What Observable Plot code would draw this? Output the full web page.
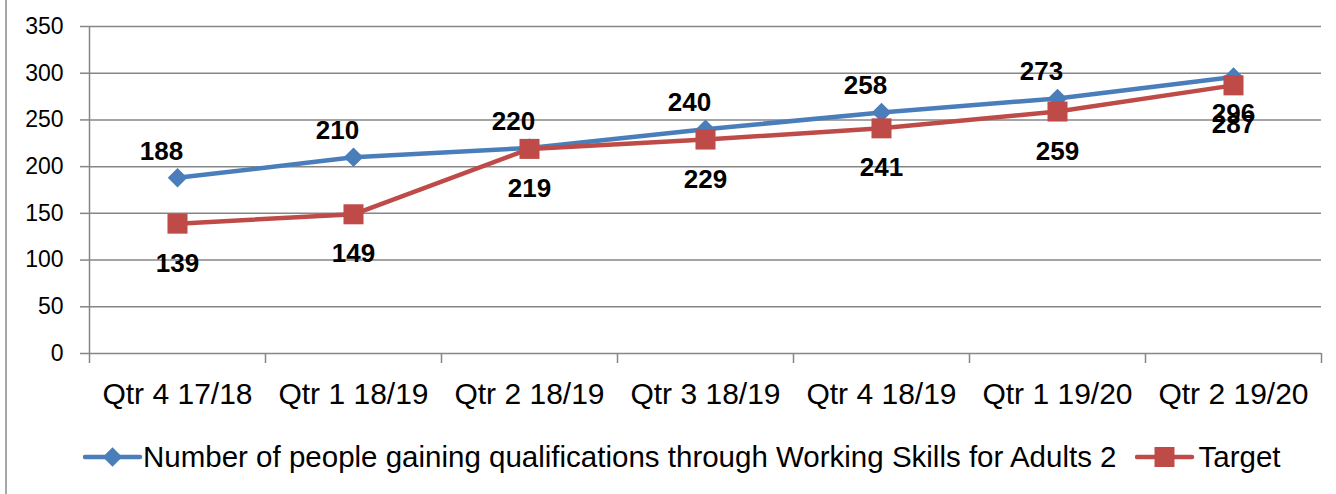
<!DOCTYPE html>
<html>
<head>
<meta charset="utf-8">
<script src="https://cdn.jsdelivr.net/npm/d3@7"></script>
<script src="https://cdn.jsdelivr.net/npm/@observablehq/plot@0.6"></script>
<style>
  html, body { margin: 0; padding: 0; background: #fff; }
  body { width: 1336px; height: 494px; overflow: hidden; position: relative; font-family: "Liberation Sans", Arial, sans-serif; }
  #frame { position: absolute; left: 5px; top: 0; width: 2px; height: 494px; background: #a6a6a6; }
  #chart { position: absolute; left: 0; top: 0; }
  #legend { position: absolute; left: 83px; top: 440px; display: flex; align-items: center; font-size: 29.5px; color: #000; white-space: nowrap; }
  #legend .item { display: flex; align-items: center; }
  #legend svg { display: block; }
</style>
</head>
<body>
<div id="frame"></div>
<div id="chart"></div>
<div id="legend"></div>
<script>
const categories = ["Qtr 4 17/18", "Qtr 1 18/19", "Qtr 2 18/19", "Qtr 3 18/19", "Qtr 4 18/19", "Qtr 1 19/20", "Qtr 2 19/20"];
const qualifications = [188, 210, 220, 240, 258, 273, 296];
const target = [139, 149, 219, 229, 241, 259, 287];
const yTicks = [0, 50, 100, 150, 200, 250, 300, 350];
const seriesNames = ["Number of people gaining qualifications through Working Skills for Adults 2", "Target"];

const blue = "#4A7EBB";
const red = "#BE4B48";
const grid = "#868686";

const blueRows = categories.map((c, i) => ({i, c, v: qualifications[i]}));
const redRows = categories.map((c, i) => ({i, c, v: target[i]}));
const last = categories.length - 1;
const boundaries = d3.range(-0.5, categories.length, 1);
const labelStyle = {x: "i", y: "v", text: d => String(d.v), fontSize: 26, fontWeight: "bold", fill: "#000", lineAnchor: "bottom"};

const chart = Plot.plot({
  width: 1336,
  height: 420,
  marginLeft: 89,
  marginRight: 15,
  marginTop: 26,
  marginBottom: 67,
  style: {fontFamily: "'Liberation Sans', Arial, sans-serif", color: "#000", background: "transparent"},
  x: {type: "linear", domain: [-0.5, categories.length - 0.5]},
  y: {domain: [0, 350]},
  marks: [
    Plot.gridY(yTicks, {stroke: grid, strokeOpacity: 1, strokeWidth: 1.5}),
    Plot.axisY(yTicks, {tickSize: 9, tickPadding: 17, fontSize: 23, stroke: grid, strokeWidth: 1.5, label: null, fill: "#000"}),
    Plot.ruleX([-0.5], {stroke: grid, strokeWidth: 1.5}),
    Plot.axisX(boundaries, {tickSize: 10, tickFormat: () => "", stroke: grid, strokeWidth: 1.5, label: null}),
    Plot.axisX(d3.range(categories.length), {tickSize: 0, tickPadding: 29, tickFormat: i => categories[i], fontSize: 30, label: null, fill: "#000"}),
    Plot.line(blueRows, {x: "i", y: "v", stroke: blue, strokeWidth: 4.5}),
    Plot.dot(blueRows, {x: "i", y: "v", symbol: "diamond2", r: 8.8, fill: blue, stroke: null}),
    Plot.line(redRows, {x: "i", y: "v", stroke: red, strokeWidth: 4.5}),
    Plot.dot(redRows, {x: "i", y: "v", symbol: "square", r: 11.3, fill: red, stroke: null}),
    Plot.text(blueRows.filter(d => d.i !== last), {...labelStyle, dx: -16, dy: -18}),
    Plot.text(blueRows.filter(d => d.i === last), {...labelStyle, dy: 45}),
    Plot.text(redRows, {...labelStyle, dy: 48})
  ]
});
document.getElementById("chart").appendChild(chart);

// legend
const legend = document.getElementById("legend");
function swatch(color, symbol) {
  const ns = "http://www.w3.org/2000/svg";
  const s = document.createElementNS(ns, "svg");
  s.setAttribute("width", 60); s.setAttribute("height", 26);
  const l = document.createElementNS(ns, "line");
  l.setAttribute("x1", 2); l.setAttribute("x2", 57); l.setAttribute("y1", 13); l.setAttribute("y2", 13);
  l.setAttribute("stroke", color); l.setAttribute("stroke-width", 4.5); l.setAttribute("stroke-linecap", "round");
  s.appendChild(l);
  const p = document.createElementNS(ns, "path");
  p.setAttribute("d", d3.symbol(symbol === "diamond" ? d3.symbolDiamond2 : d3.symbolSquare, symbol === "diamond" ? 242 : 400)());
  p.setAttribute("transform", "translate(29.5,13)");
  p.setAttribute("fill", color);
  s.appendChild(p);
  return s;
}
[[blue, "diamond"], [red, "square"]].forEach(([c, sym], k) => {
  const item = document.createElement("div");
  item.className = "item";
  if (k > 0) item.style.marginLeft = "18px";
  item.appendChild(swatch(c, sym));
  const t = document.createElement("span");
  t.textContent = seriesNames[k];
  if (k > 0) t.style.marginLeft = "4px";
  item.appendChild(t);
  legend.appendChild(item);
});
</script>
</body>
</html>
